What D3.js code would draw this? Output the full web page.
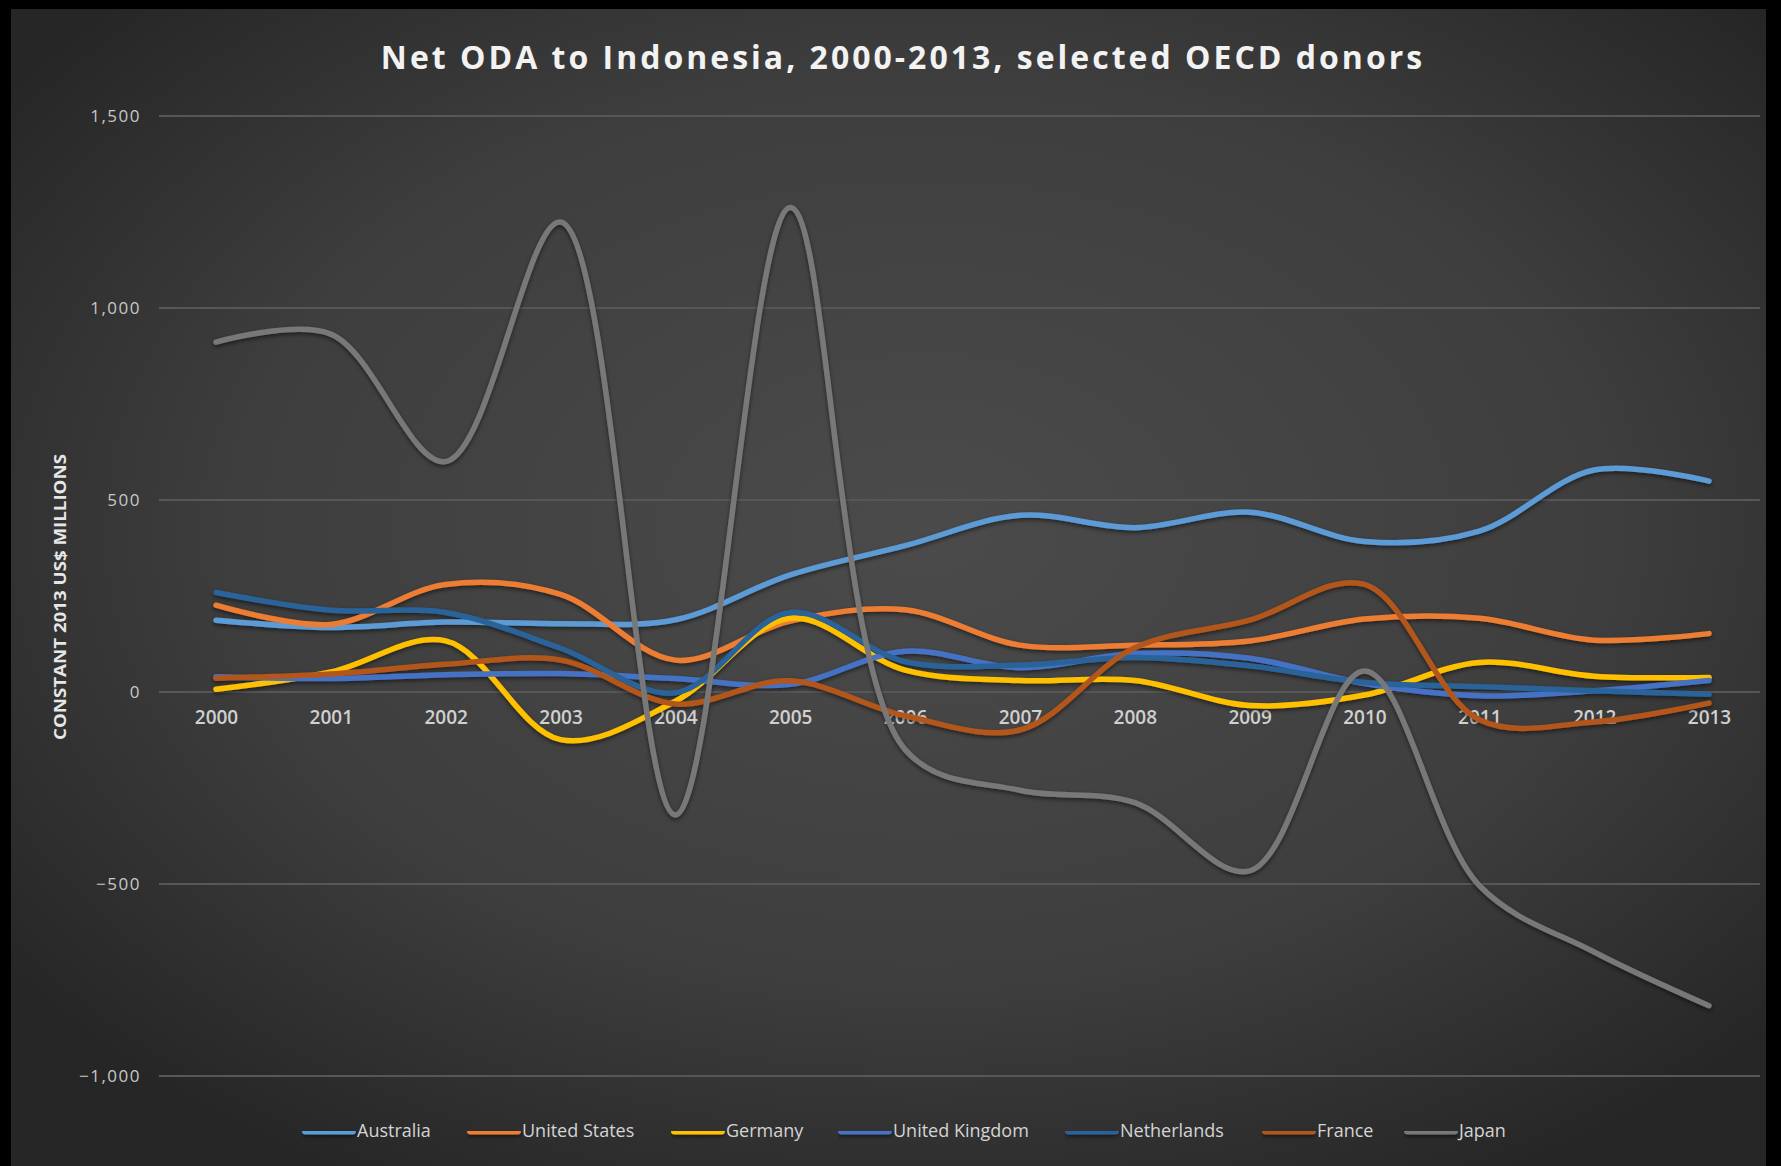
<!DOCTYPE html>
<html>
<head>
<meta charset="utf-8">
<script src="https://cdn.jsdelivr.net/npm/d3@7"></script>
<style>
  body { margin: 0; background: #000; }
  svg { display: block; }
</style>
</head>
<body>
<div id="chart"></div>
<script>
// data, constant 2013 US$ millions
var years = [2000, 2001, 2002, 2003, 2004, 2005, 2006, 2007, 2008, 2009, 2010, 2011, 2012, 2013];
var donors = ["Australia", "United States", "Germany", "United Kingdom", "Netherlands", "France", "Japan"];
var australia = [187, 168, 182, 178, 188, 305, 381, 460, 428, 468, 392, 419, 578, 549];
var unitedStates = [226, 176, 280, 254, 83, 185, 214, 122, 122, 133, 190, 192, 135, 152];
var germany = [7, 52, 133, -124, -24, 192, 57, 30, 30, -35, -8, 77, 41, 38];
var unitedKingdom = [40, 35, 45, 48, 35, 20, 106, 63, 100, 88, 22, -10, 3, 30];
var netherlands = [259, 213, 207, 114, -2, 207, 79, 70, 90, 68, 25, 14, 3, -6];
var france = [36, 47, 72, 83, -31, 29, -62, -99, 115, 187, 280, -72, -78, -29];
var japan = [911, 932, 600, 1224, -320, 1262, -150, -256, -288, -466, 55, -504, -677, -817];
var yTicks = [1500, 1000, 500, 0, -500, -1000];

var seriesValues = [australia, unitedStates, germany, unitedKingdom, netherlands, france, japan];
var colorset = ["#5b9bd5", "#ed7d31", "#ffc000", "#4472c4", "#2a6399", "#b3561b", "#787878"];

const width = 1781;
const height = 1166;

var svg = d3.select("#chart")
    .append("svg")
    .attr("width", width)
    .attr("height", height);

var defs = svg.append("defs");

// background gradient like the office dark style
var grad = defs.append("radialGradient")
    .attr("id", "bg")
    .attr("cx", "52%").attr("cy", "45%").attr("r", "65%");
grad.append("stop").attr("offset", "0%").attr("stop-color", "#4b4b4b");
grad.append("stop").attr("offset", "60%").attr("stop-color", "#3e3e3e");
grad.append("stop").attr("offset", "100%").attr("stop-color", "#262626");

// drop shadow for the lines (user space so flat shapes keep it)
var shadow = defs.append("filter")
    .attr("id", "shadow")
    .attr("filterUnits", "userSpaceOnUse")
    .attr("x", 0).attr("y", 0).attr("width", width).attr("height", height);
shadow.append("feDropShadow")
    .attr("dx", 0).attr("dy", 2)
    .attr("stdDeviation", 2)
    .attr("flood-color", "#000")
    .attr("flood-opacity", 0.55);

svg.append("rect")
    .attr("x", 11).attr("y", 9)
    .attr("width", 1755).attr("height", height - 9)
    .attr("fill", "url(#bg)");

// scales
var x = d3.scalePoint()
    .domain(years)
    .range([216, 1709]);

var y = d3.scaleLinear()
    .domain([-1000, 1500])
    .range([1076, 116]);

// gridlines
svg.append("g")
    .selectAll("line")
    .data(yTicks)
    .enter()
    .append("line")
    .attr("x1", 159).attr("x2", 1760)
    .attr("y1", function(d) { return y(d); })
    .attr("y2", function(d) { return y(d); })
    .attr("stroke", "#575757")
    .attr("stroke-width", 2);

// y axis labels
var yAxis = svg.append("g")
    .attr("transform", "translate(141,0)")
    .call(d3.axisLeft(y).tickValues(yTicks).tickSize(0).tickPadding(0).tickFormat(d3.format(",")));
yAxis.select(".domain").remove();
yAxis.selectAll("text")
    .attr("fill", "#c8c8c8")
    .style("font-family", "'Open Sans', sans-serif")
    .style("font-size", "17px")
    .style("letter-spacing", "1.5px");

// x axis labels sit on the zero line
var xAxis = svg.append("g")
    .attr("transform", "translate(0," + y(0) + ")")
    .call(d3.axisBottom(x).tickSize(0).tickPadding(19));
xAxis.select(".domain").remove();
xAxis.selectAll("text")
    .attr("fill", "#d0d0d0")
    .style("font-family", "'Open Sans', sans-serif")
    .style("font-weight", "600")
    .style("font-size", "19px");

// title
svg.append("text")
    .attr("x", 903).attr("y", 69)
    .attr("text-anchor", "middle")
    .attr("fill", "#f2f2f2")
    .style("font-family", "'Open Sans', sans-serif")
    .style("font-weight", "bold")
    .style("font-size", "32px")
    .style("letter-spacing", "3px")
    .text("Net ODA to Indonesia, 2000-2013, selected OECD donors");

// y axis title
svg.append("text")
    .attr("transform", "translate(66,597) rotate(-90)")
    .attr("text-anchor", "middle")
    .attr("fill", "#e6e6e6")
    .attr("textLength", 286)
    .attr("lengthAdjust", "spacingAndGlyphs")
    .style("font-family", "'Liberation Sans Narrow', 'Open Sans', sans-serif")
    .style("font-weight", "bold")
    .style("font-size", "16px")
    .text("CONSTANT 2013 US$ MILLIONS");

// lines
var line = d3.line()
    .x(function(d, i) { return x(years[i]); })
    .y(function(d) { return y(d); })
    .curve(d3.curveCatmullRom.alpha(0.5));

svg.append("g")
    .attr("filter", "url(#shadow)")
    .selectAll("path")
    .data(seriesValues)
    .enter()
    .append("path")
    .attr("d", function(d) { return line(d); })
    .attr("fill", "none")
    .attr("stroke", function(d, i) { return colorset[i]; })
    .attr("stroke-width", 5.5)
    .attr("stroke-linecap", "round");

// legend
var legendX = [302, 467, 671, 838, 1065, 1262, 1404];
var legend = svg.append("g")
    .selectAll("g")
    .data(donors)
    .enter()
    .append("g")
    .attr("transform", function(d, i) { return "translate(" + legendX[i] + ",1131)"; });

legend.append("rect")
    .attr("x", 0).attr("y", -3.5)
    .attr("width", 54).attr("height", 7)
    .attr("rx", 3.5)
    .attr("fill", function(d, i) { return colorset[i]; })
    .attr("filter", "url(#shadow)");

legend.append("text")
    .attr("x", 55).attr("y", 6)
    .attr("fill", "#d4d4d4")
    .style("font-family", "'Open Sans', sans-serif")
    .style("font-size", "18px")
    .text(function(d) { return d; });
</script>
</body>
</html>
